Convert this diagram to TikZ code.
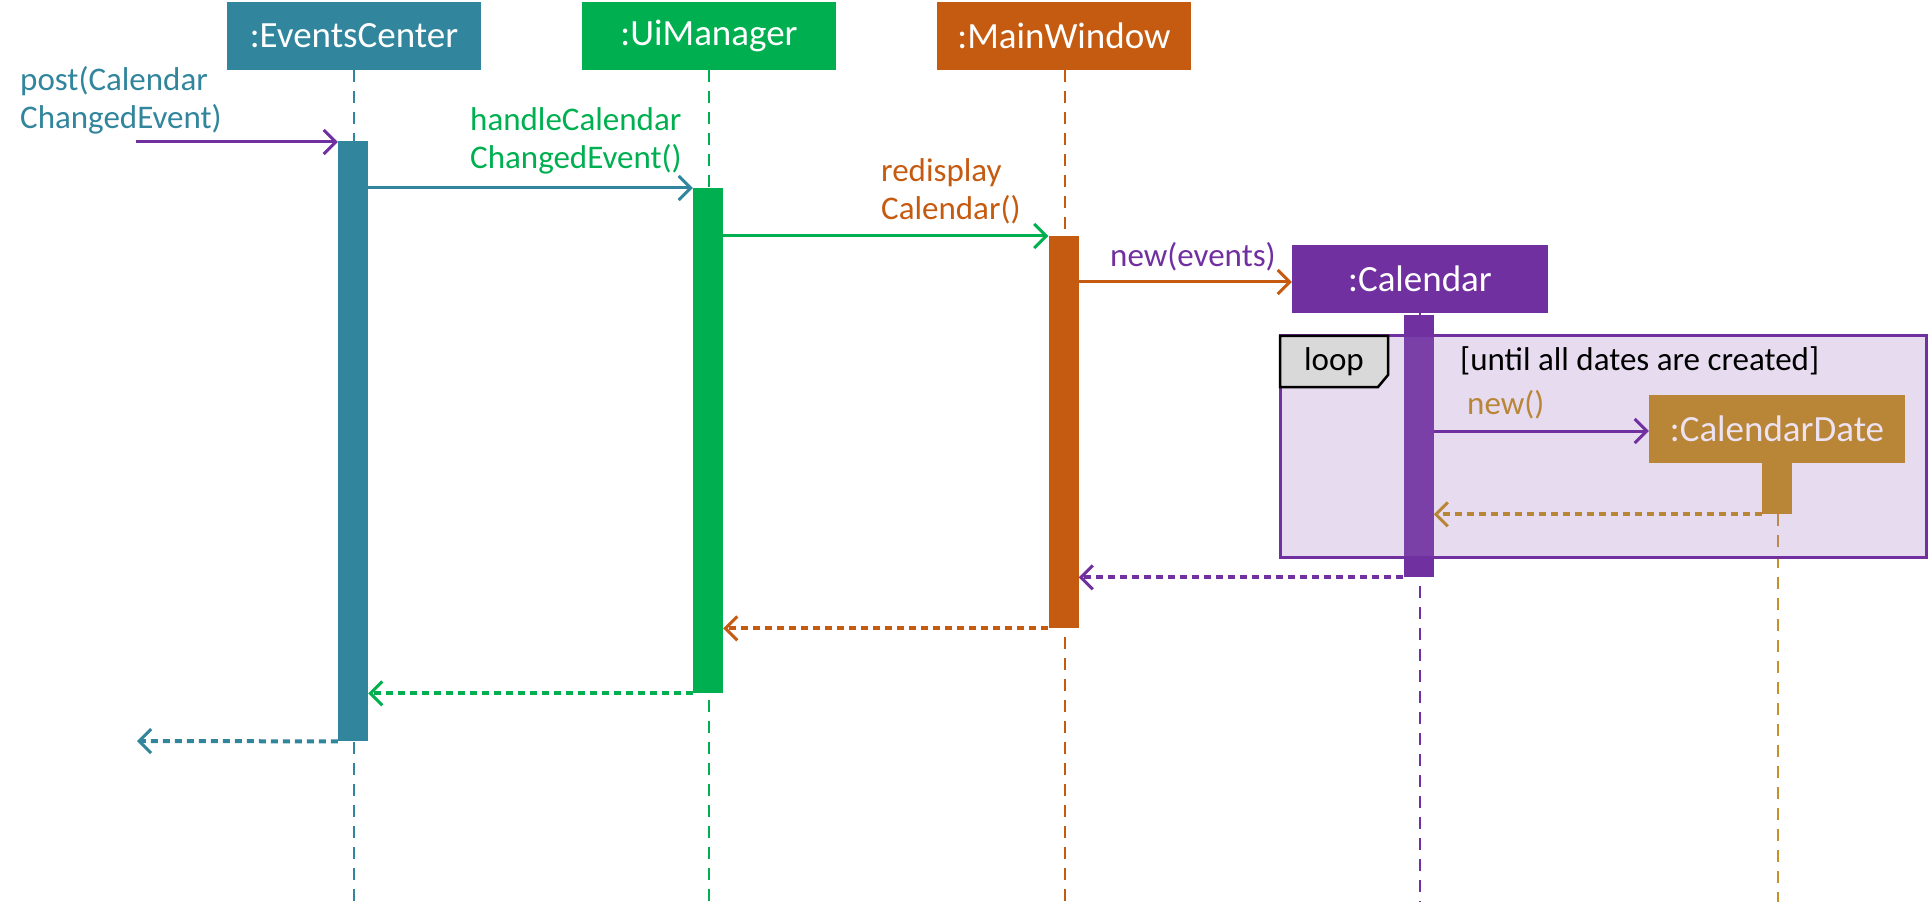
\documentclass[tikz,border=0pt]{standalone}
\usepackage{fontspec}
\setmainfont{Carlito}
\usetikzlibrary{arrows.meta}
\definecolor{cteal}{HTML}{31859C}
\definecolor{cgreen}{HTML}{00B050}
\definecolor{corange}{HTML}{C55A11}
\definecolor{cpurple}{HTML}{7030A0}
\definecolor{cgold}{RGB}{184,134,54}
\definecolor{cgoldline}{RGB}{196,146,40}
\definecolor{cloopfill}{RGB}{157,112,190}
\definecolor{cdtext}{RGB}{236,226,242}
\definecolor{ctab}{RGB}{217,217,217}
\begin{document}
\begin{tikzpicture}[x=1pt,y=-1pt,
  head/.style={draw=none, fill=#1, text=white, minimum width=254pt, minimum height=68pt, inner sep=0pt, font=\fontsize{37}{44}\selectfont},
  act/.style={draw=none, fill=#1, minimum width=30pt, inner sep=0pt, anchor=north},
  life/.style={draw=#1, line width=2pt, dash pattern=on 12pt off 9pt},
  msg/.style={draw=#1, line width=3pt, -{Straight Barb[length=12pt,width=24pt,line width=3pt]}},
  ret/.style={draw=#1, line width=4pt, dash pattern=on 7pt off 5pt, -{Straight Barb[length=12pt,width=24pt,line width=3pt]}},
  lbl/.style={text=#1, font=\fontsize{33}{38}\selectfont, inner sep=0pt, align=left, anchor=west},
]
\useasboundingbox (0,0) rectangle (1928,909);

% headers
\node[head=cteal] (ec) at (354,36) {:EventsCenter};
\node[head=cgreen] (um) at (709,36) {:UiManager};
\node[head=corange] (mw) at (1064,36) {:MainWindow};
\node[head=cpurple, minimum width=256pt] (cal) at (1420,279) {:Calendar};

% lifeline ends
\coordinate (ecend) at (354,902);
\coordinate (umend) at (709,902);
\coordinate (mwend) at (1065,902);
\coordinate (calend) at (1420,902);
\coordinate (cdend) at (1778,902);

% lifelines
\draw[life=cteal] (ec.south) -- (ecend);
\draw[life=cgreen] (um.south) -- (umend);
\draw[life=corange] (mw.south -| mwend) -- (mwend);
\draw[life=cpurple] (cal.south) -- (calend);
\draw[life=cgoldline] (1778,514) -- (cdend);

% activations
\node[act=cteal, minimum height=600pt] (ecact) at (353,141) {};
\node[act=cgreen, minimum height=505pt] (umact) at (708,188) {};
\node[act=corange, minimum height=392pt] (mwact) at (1063.5,236) {};
\node[act=cpurple, minimum height=262pt] (calact) at (1418.5,315) {};

% loop frame
\path[fill=cloopfill, fill opacity=0.25] (1280,336) rectangle (1926,557);
\draw[cpurple, line width=3pt] (1280,336) rectangle (1926,557);
\draw[black, line width=2.5pt, fill=ctab] (1280,336) -- (1388,336) -- (1388,375) -- (1378,387) -- (1280,387) -- cycle;
\node[font=\fontsize{33}{37}\selectfont, inner sep=0pt] (looplbl) at (1334,362) {loop};
\node[lbl=black] (guard) at (1460,361) {[until all dates are created]};

% CalendarDate
\node[head=cgold, minimum width=256pt, text=cdtext] (cd) at (1777,429) {:CalendarDate};
\node[act=cgold, minimum height=51pt] (cdact) at (1777,463) {};

% messages
\coordinate (postsrc) at (136,142);
\coordinate (retend) at (137,741);
\draw[msg=cpurple] (postsrc) -- (postsrc -| ecact.west);
\draw[msg=cteal] (ecact.east |- umact.north) -- (umact.north west);
\draw[msg=cgreen] (umact.east |- mwact.north) -- (mwact.north west);
\draw[msg=corange] (mwact.east |- 0,282) -- (cal.west |- 0,282);
\draw[msg=cpurple] (calact.east |- 0,431) -- (cd.west |- 0,431);

% returns
\draw[ret=cgold] (cdact.south west) -- (calact.east |- cdact.south);
\draw[ret=cpurple] (calact.south west) -- (mwact.east |- calact.south);
\draw[ret=corange] (mwact.south west) -- (umact.east |- mwact.south);
\draw[ret=cgreen] (umact.south west) -- (ecact.east |- umact.south);
\draw[ret=cteal] (ecact.south west) -- (retend);

% labels
\node[lbl=cteal] (postlbl) at (20,100) {post(Calendar\\ChangedEvent)};
\node[lbl=cgreen] (handlelbl) at (470,141) {handleCalendar\\ChangedEvent()};
\node[lbl=corange] (redlbl) at (881,191) {redisplay\\Calendar()};
\node[lbl=cpurple] (newev) at (1110,257) {new(events)};
\node[lbl=cgold] (newlbl) at (1467,405) {new()};
\end{tikzpicture}
\end{document}
